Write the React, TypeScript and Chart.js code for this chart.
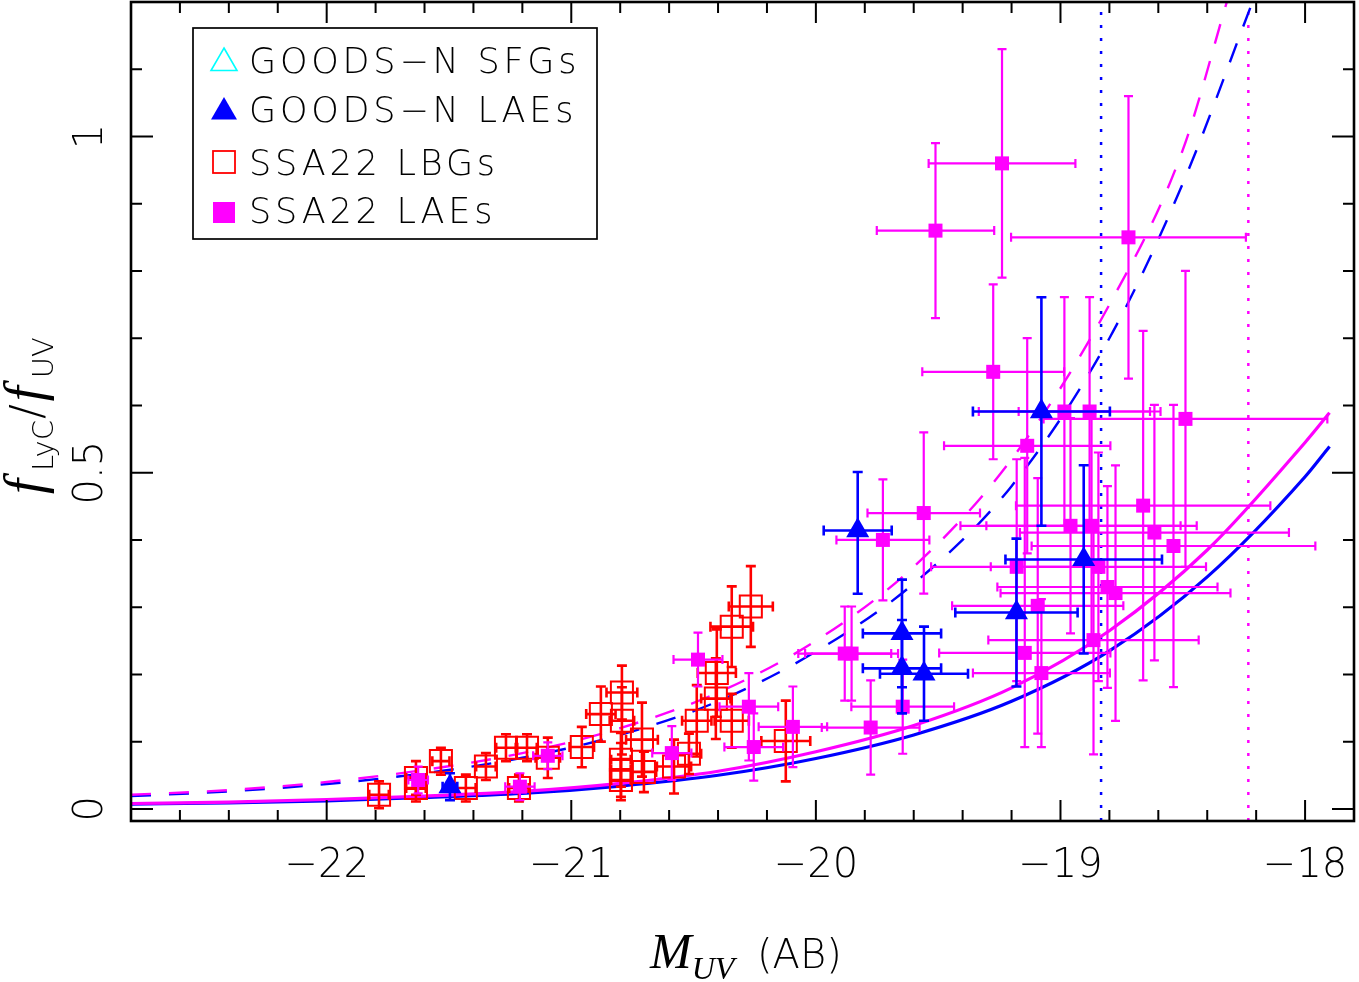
import React, { useEffect, useRef } from 'react';
import { Chart, registerables } from 'chart.js';

Chart.register(...registerables);

// ---- axes ----
const X_MIN = -22.8;
const X_MAX = -17.8;
const Y_MIN = -0.018;
const Y_MAX = 1.2;
const xTickValues = [-22, -21, -20, -19, -18];
const xTickLabels = ['\u221222', '\u221221', '\u221220', '\u221219', '\u221218'];
const yTickValues = [0, 0.5, 1];
const yTickLabels = ['0', '0.5', '1'];

// ---- legend ----
const seriesNames = ['GOODS\u2212N SFGs', 'GOODS\u2212N LAEs', 'SSA22 LBGs', 'SSA22 LAEs'];

// ---- GOODS-N LAEs (filled blue triangles) ----
const gnLaeX = [-21.496, -19.829, -19.648, -19.648, -19.558, -19.078, -18.905, -19.180];
const gnLaeY = [0.033, 0.414, 0.261, 0.209, 0.201, 0.591, 0.371, 0.292];
const gnLaeXErr = [0.03, 0.139, 0.16, 0.16, 0.18, 0.28, 0.32, 0.25];
const gnLaeYErrLo = [0.02, 0.094, 0.08, 0.067, 0.07, 0.17, 0.14, 0.11];
const gnLaeYErrHi = [0.02, 0.087, 0.08, 0.072, 0.07, 0.17, 0.14, 0.11];

// ---- GOODS-N SFGs (open cyan triangles): none plotted in this range ----
const gnSfgX: number[] = [];
const gnSfgY: number[] = [];

// ---- SSA22 LBGs (open red squares) ----
const lbgX = [-21.786, -21.635, -21.635, -21.533, -21.431, -21.349, -21.267, -21.181, -21.214, -21.096,
  -20.957, -20.879, -20.793, -20.793, -20.711, -20.797, -20.797, -20.797, -20.703, -20.58,
  -20.519, -20.487, -20.409, -20.405, -20.344, -20.344, -20.266, -20.123];
const lbgY = [0.021, 0.046, 0.031, 0.071, 0.031, 0.063, 0.091, 0.091, 0.031, 0.076,
  0.092, 0.141, 0.173, 0.131, 0.103, 0.073, 0.058, 0.043, 0.055, 0.063,
  0.082, 0.131, 0.164, 0.202, 0.131, 0.271, 0.301, 0.101];
const lbgXErr = [0.04, 0.04, 0.04, 0.035, 0.04, 0.04, 0.04, 0.04, 0.04, 0.05,
  0.05, 0.06, 0.063, 0.05, 0.065, 0.04, 0.04, 0.04, 0.05, 0.07,
  0.05, 0.06, 0.06, 0.078, 0.07, 0.087, 0.09, 0.1];
const lbgYErr = [0.02, 0.025, 0.02, 0.02, 0.02, 0.02, 0.02, 0.02, 0.02, 0.03,
  0.03, 0.041, 0.04, 0.05, 0.055, 0.04, 0.04, 0.03, 0.03, 0.04,
  0.03, 0.053, 0.06, 0.065, 0.04, 0.06, 0.06, 0.06];

// ---- SSA22 LAEs (filled magenta squares) ----
const laeX = [-19.239, -19.511, -18.722, -19.275, -18.984, -18.881, -19.136, -18.662, -18.959, -18.873,
  -18.616, -18.538, -18.489, -18.845, -18.808, -18.775, -18.865, -19.179, -19.093, -19.146,
  -19.078, -19.559, -19.726, -19.882, -19.854, -19.645, -19.776, -20.482, -20.274, -20.254,
  -20.094, -20.589, -21.096, -21.210, -21.626];
const laeY = [0.960, 0.860, 0.850, 0.650, 0.591, 0.591, 0.540, 0.451, 0.421, 0.421,
  0.411, 0.391, 0.580, 0.360, 0.330, 0.321, 0.251, 0.360, 0.302, 0.232,
  0.202, 0.440, 0.400, 0.231, 0.231, 0.152, 0.121, 0.222, 0.152, 0.092,
  0.122, 0.083, 0.079, 0.033, 0.043];
const laeXErr = [0.30, 0.24, 0.48, 0.29, 0.35, 0.29, 0.34, 0.52, 0.45, 0.43,
  0.55, 0.58, 0.58, 0.44, 0.45, 0.47, 0.43, 0.35, 0.35, 0.35,
  0.28, 0.23, 0.19, 0.19, 0.19, 0.21, 0.20, 0.10, 0.12, 0.12,
  0.14, 0.08, 0.06, 0.06, 0.04];
const laeYErrLo = [0.17, 0.13, 0.21, 0.13, 0.17, 0.17, 0.16, 0.26, 0.16, 0.17,
  0.19, 0.21, 0.22, 0.17, 0.15, 0.19, 0.17, 0.17, 0.19, 0.14,
  0.11, 0.12, 0.09, 0.07, 0.07, 0.07, 0.07, 0.04, 0.08, 0.05,
  0.06, 0.04, 0.02, 0.02, 0.02];
const laeYErrHi = [0.17, 0.13, 0.21, 0.13, 0.17, 0.17, 0.16, 0.26, 0.16, 0.17,
  0.19, 0.21, 0.22, 0.17, 0.15, 0.19, 0.17, 0.16, 0.19, 0.29,
  0.11, 0.12, 0.09, 0.07, 0.07, 0.07, 0.07, 0.04, 0.05, 0.05,
  0.06, 0.04, 0.02, 0.02, 0.02];

// ---- model curves ----
const solidX = [-22.8, -22.4, -22.0, -21.6, -21.2, -20.8, -20.4, -20.0, -19.6, -19.2, -18.8, -18.4, -18.0, -17.9];
const solidBlueY = [0.007, 0.009, 0.012, 0.017, 0.023, 0.034, 0.050, 0.075, 0.110, 0.160, 0.235, 0.345, 0.494, 0.539];
const solidMagentaY = [0.008, 0.010, 0.014, 0.019, 0.026, 0.038, 0.056, 0.085, 0.124, 0.180, 0.265, 0.385, 0.545, 0.589];
const dashedBlueX = [-22.8, -22.4, -22.0, -21.6, -21.2, -20.8, -20.4, -20.0, -19.6, -19.2, -18.8, -18.5, -18.215];
const dashedBlueY = [0.019, 0.026, 0.037, 0.053, 0.076, 0.110, 0.160, 0.234, 0.335, 0.480, 0.700, 0.930, 1.2];
const dashedMagentaX = [-22.8, -22.4, -22.0, -21.6, -21.2, -20.8, -20.4, -20.0, -19.6, -19.2, -18.8, -18.5, -18.32];
const dashedMagentaY = [0.021, 0.028, 0.040, 0.058, 0.083, 0.120, 0.173, 0.250, 0.360, 0.520, 0.750, 0.980, 1.2];
const limitBlueX = -18.834;
const limitMagentaX = -18.232;

const BLUE = '#0000ff';
const MAGENTA = '#ff00ff';
const RED = '#ff0000';
const CYAN = '#00ffff';
const SANS = "'DejaVu Sans', 'Liberation Sans', sans-serif";
const SERIF = "'Liberation Serif', 'DejaVu Serif', serif";
const LIGHT = '200';

const pts = (xs: number[], ys: number[]) => xs.map((x, i) => ({ x, y: ys[i] }));

const errorBarPlugin = {
  id: 'errorBars',
  beforeDatasetDraw(chart: any, args: any) {
    const ds = chart.data.datasets[args.index];
    const eb = ds.errorBars;
    if (!eb) return;
    const { ctx, chartArea: a, scales } = chart;
    const xs = scales.x;
    const ys = scales.y;
    ctx.save();
    ctx.beginPath();
    ctx.rect(a.left, a.top, a.right - a.left, a.bottom - a.top);
    ctx.clip();
    ctx.strokeStyle = eb.color;
    ctx.lineWidth = eb.lineWidth;
    const c = eb.cap / 2;
    ds.data.forEach((p: any, i: number) => {
      const px = xs.getPixelForValue(p.x);
      const py = ys.getPixelForValue(p.y);
      const x0 = xs.getPixelForValue(p.x - eb.xErr[i]);
      const x1 = xs.getPixelForValue(p.x + eb.xErr[i]);
      const y0 = ys.getPixelForValue(p.y - eb.yLo[i]);
      const y1 = ys.getPixelForValue(p.y + eb.yHi[i]);
      ctx.beginPath();
      ctx.moveTo(x0, py); ctx.lineTo(x1, py);
      ctx.moveTo(x0, py - c); ctx.lineTo(x0, py + c);
      ctx.moveTo(x1, py - c); ctx.lineTo(x1, py + c);
      ctx.moveTo(px, y0); ctx.lineTo(px, y1);
      ctx.moveTo(px - c, y0); ctx.lineTo(px + c, y0);
      ctx.moveTo(px - c, y1); ctx.lineTo(px + c, y1);
      ctx.stroke();
    });
    ctx.restore();
  },
};

const frameTicksPlugin = {
  id: 'frameTicks',
  afterDatasetsDraw(chart: any) {
    const { ctx, chartArea: a, scales } = chart;
    const xs = scales.x;
    const ys = scales.y;
    ctx.save();
    ctx.strokeStyle = '#000';
    ctx.lineWidth = 2;
    ctx.beginPath();
    for (let k = 0; k <= 25; k++) {
      const v = X_MIN + k * 0.2;
      const major = Math.abs(v - Math.round(v)) < 1e-6;
      const len = major ? 21 : 11;
      const px = xs.getPixelForValue(v);
      ctx.moveTo(px, a.bottom); ctx.lineTo(px, a.bottom - len);
      ctx.moveTo(px, a.top); ctx.lineTo(px, a.top + len);
    }
    for (let k = 0; k <= 12; k++) {
      const v = k * 0.1;
      const major = k % 5 === 0;
      const len = major ? 22 : 11;
      const py = ys.getPixelForValue(v);
      ctx.moveTo(a.left, py); ctx.lineTo(a.left + len, py);
      ctx.moveTo(a.right, py); ctx.lineTo(a.right - len, py);
    }
    ctx.stroke();
    ctx.lineWidth = 2.6;
    ctx.strokeRect(a.left, a.top, a.right - a.left, a.bottom - a.top);
    ctx.restore();
  },
};

const drawTriangle = (ctx: any, cx: number, cy: number, r: number) => {
  ctx.beginPath();
  for (let k = 0; k < 3; k++) {
    const ang = (k * 2 * Math.PI) / 3;
    const x = cx + Math.sin(ang) * r;
    const y = cy - Math.cos(ang) * r;
    if (k === 0) ctx.moveTo(x, y); else ctx.lineTo(x, y);
  }
  ctx.closePath();
};

const textPlugin = {
  id: 'texts',
  afterDraw(chart: any) {
    const { ctx, chartArea: a, scales } = chart;
    const xs = scales.x;
    const ys = scales.y;
    ctx.save();
    ctx.fillStyle = '#000';
    // tick labels
    ctx.font = `${LIGHT} 40px ${SANS}`;
    ctx.textAlign = 'center';
    ctx.textBaseline = 'alphabetic';
    xTickValues.forEach((v, i) => {
      ctx.fillText(xTickLabels[i], xs.getPixelForValue(v), a.bottom + 56);
    });
    yTickValues.forEach((v, i) => {
      ctx.save();
      ctx.translate(a.left - 29, ys.getPixelForValue(v));
      ctx.rotate(-Math.PI / 2);
      ctx.fillText(yTickLabels[i], 0, 0);
      ctx.restore();
    });
    // x title: M_UV (AB)
    ctx.textAlign = 'left';
    ctx.font = `italic 50px ${SERIF}`;
    const mx = 650;
    ctx.fillText('M', mx, 968);
    const mw = ctx.measureText('M').width;
    ctx.font = `italic 32px ${SERIF}`;
    ctx.fillText('UV', mx + mw, 979);
    ctx.font = `${LIGHT} 40px ${SANS}`;
    ctx.fillText('(AB)', 757, 968);
    // y title: f_LyC / f_UV (rotated)
    ctx.save();
    ctx.translate(0, 500);
    ctx.rotate(-Math.PI / 2);
    let u = 6;
    ctx.font = `italic 54px ${SERIF}`;
    ctx.fillText('f', u, 42);
    u += ctx.measureText('f').width + 8;
    ctx.font = `${LIGHT} 29px ${SANS}`;
    ctx.fillText('LyC', u, 53);
    u += ctx.measureText('LyC').width + 1;
    ctx.font = `${LIGHT} 44px ${SANS}`;
    ctx.fillText('/', u, 42);
    u += ctx.measureText('/').width + 3;
    ctx.font = `italic 54px ${SERIF}`;
    ctx.fillText('f', u, 42);
    u += ctx.measureText('f').width + 8;
    ctx.font = `${LIGHT} 29px ${SANS}`;
    ctx.fillText('UV', u, 53);
    ctx.restore();

    // legend
    const bx = 193, by = 28, bw = 404, bh = 211;
    ctx.fillStyle = '#fff';
    ctx.fillRect(bx, by, bw, bh);
    ctx.strokeStyle = '#000';
    ctx.lineWidth = 1.7;
    ctx.strokeRect(bx, by, bw, bh);
    const rowsY = [61, 110, 162, 212];
    const baseY = [73, 122, 175, 223];
    const mxL = 224;
    // row 1: open cyan triangle
    ctx.strokeStyle = CYAN;
    ctx.lineWidth = 1.6;
    drawTriangle(ctx, mxL, rowsY[0] + 2, 15);
    ctx.stroke();
    // row 2: filled blue triangle
    ctx.fillStyle = BLUE;
    drawTriangle(ctx, mxL, rowsY[1] + 2, 15);
    ctx.fill();
    // row 3: open red square
    ctx.strokeStyle = RED;
    ctx.lineWidth = 1.8;
    ctx.strokeRect(mxL - 11, rowsY[2] - 11, 22, 22);
    // row 4: filled magenta square
    ctx.fillStyle = MAGENTA;
    ctx.fillRect(mxL - 11, rowsY[3] - 10, 22, 21);
    ctx.fillStyle = '#000';
    ctx.font = `${LIGHT} 35px ${SANS}`;
    (ctx as any).letterSpacing = '3.8px';
    seriesNames.forEach((s, i) => ctx.fillText(s, 249, baseY[i]));
    (ctx as any).letterSpacing = '0px';
    ctx.restore();
  },
};

export default function App() {
  const ref = useRef<HTMLCanvasElement>(null);
  useEffect(() => {
    const canvas = ref.current;
    if (!canvas) return;
    const chart = new Chart(canvas, {
      type: 'scatter',
      data: {
        datasets: [
          {
            label: seriesNames[1],
            data: pts(gnLaeX, gnLaeY),
            pointStyle: 'triangle',
            pointRadius: 13.3,
            backgroundColor: BLUE,
            borderColor: BLUE,
            borderWidth: 0,
            order: 1,
            errorBars: { xErr: gnLaeXErr, yLo: gnLaeYErrLo, yHi: gnLaeYErrHi, color: BLUE, lineWidth: 2.6, cap: 10 },
          } as any,
          {
            label: seriesNames[3],
            data: pts(laeX, laeY),
            pointStyle: 'rect',
            pointRadius: 9.9,
            backgroundColor: MAGENTA,
            borderColor: MAGENTA,
            borderWidth: 0,
            order: 2,
            errorBars: { xErr: laeXErr, yLo: laeYErrLo, yHi: laeYErrHi, color: MAGENTA, lineWidth: 2.2, cap: 9 },
          } as any,
          {
            label: seriesNames[2],
            data: pts(lbgX, lbgY),
            pointStyle: 'rect',
            pointRadius: 15.6,
            backgroundColor: 'rgba(0,0,0,0)',
            borderColor: RED,
            borderWidth: 2,
            order: 3,
            errorBars: { xErr: lbgXErr, yLo: lbgYErr, yHi: lbgYErr, color: RED, lineWidth: 2.6, cap: 10 },
          } as any,
          {
            label: seriesNames[0],
            data: pts(gnSfgX, gnSfgY),
            pointStyle: 'triangle',
            pointRadius: 13.3,
            backgroundColor: 'rgba(0,0,0,0)',
            borderColor: CYAN,
            borderWidth: 1.5,
            order: 4,
          } as any,
          {
            type: 'line',
            label: 'model solid magenta',
            data: pts(solidX, solidMagentaY),
            borderColor: MAGENTA,
            borderWidth: 3.2,
            pointRadius: 0,
            fill: false,
            cubicInterpolationMode: 'monotone',
            order: 5,
          } as any,
          {
            type: 'line',
            label: 'model solid blue',
            data: pts(solidX, solidBlueY),
            borderColor: BLUE,
            borderWidth: 3.2,
            pointRadius: 0,
            fill: false,
            cubicInterpolationMode: 'monotone',
            order: 6,
          } as any,
          {
            type: 'line',
            label: 'model dashed magenta',
            data: pts(dashedMagentaX, dashedMagentaY),
            borderColor: MAGENTA,
            borderWidth: 2.4,
            borderDash: [20, 18],
            pointRadius: 0,
            fill: false,
            cubicInterpolationMode: 'monotone',
            order: 7,
          } as any,
          {
            type: 'line',
            label: 'model dashed blue',
            data: pts(dashedBlueX, dashedBlueY),
            borderColor: BLUE,
            borderWidth: 2.4,
            borderDash: [20, 18],
            pointRadius: 0,
            fill: false,
            cubicInterpolationMode: 'monotone',
            order: 8,
          } as any,
          {
            type: 'line',
            label: 'limit blue',
            data: [{ x: limitBlueX, y: Y_MIN }, { x: limitBlueX, y: Y_MAX }],
            borderColor: BLUE,
            borderWidth: 2.5,
            borderDash: [3, 10],
            pointRadius: 0,
            fill: false,
            order: 9,
          } as any,
          {
            type: 'line',
            label: 'limit magenta',
            data: [{ x: limitMagentaX, y: Y_MIN }, { x: limitMagentaX, y: Y_MAX }],
            borderColor: MAGENTA,
            borderWidth: 2.5,
            borderDash: [3, 10],
            pointRadius: 0,
            fill: false,
            order: 10,
          } as any,
        ],
      },
      options: {
        responsive: true,
        maintainAspectRatio: false,
        animation: false,
        events: [],
        layout: { autoPadding: false, padding: { top: 2, right: 5, left: 0, bottom: 0 } },
        plugins: {
          legend: { display: false },
          tooltip: { enabled: false },
        },
        scales: {
          x: {
            type: 'linear',
            min: X_MIN,
            max: X_MAX,
            grid: { display: false, drawTicks: false },
            border: { display: false },
            ticks: { display: false, stepSize: 1, includeBounds: false },
            afterFit: (s: any) => { s.height = 161; },
          },
          y: {
            type: 'linear',
            min: Y_MIN,
            max: Y_MAX,
            grid: { display: false, drawTicks: false },
            border: { display: false },
            ticks: { display: false, stepSize: 0.5, includeBounds: false },
            afterFit: (s: any) => { s.width = 131; },
          },
        },
      } as any,
      plugins: [errorBarPlugin, frameTicksPlugin, textPlugin],
    });
    return () => chart.destroy();
  }, []);
  return (
    <div style={{ position: 'absolute', left: 0, top: 0, width: 1359, height: 982, background: '#fff' }}>
      <canvas ref={ref} />
    </div>
  );
}
